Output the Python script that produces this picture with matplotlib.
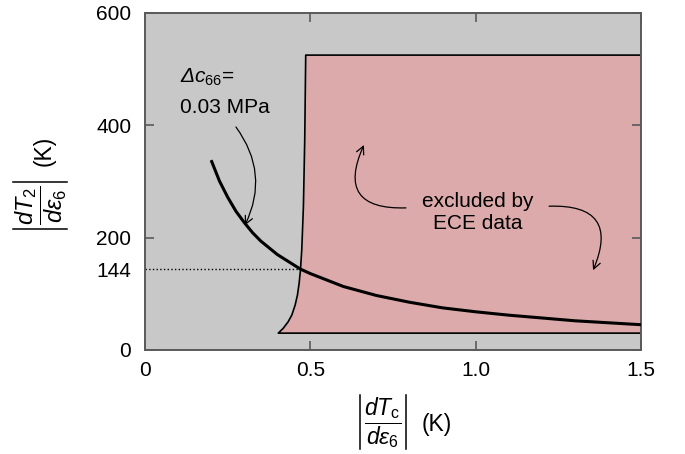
import numpy as np
import matplotlib.pyplot as plt
from matplotlib.lines import Line2D

plt.rcParams['font.family'] = ['Liberation Sans', 'DejaVu Sans']
plt.rcParams['mathtext.fontset'] = 'custom'
plt.rcParams['mathtext.rm'] = 'Liberation Sans'
plt.rcParams['mathtext.it'] = 'Liberation Sans:italic'
plt.rcParams['mathtext.bf'] = 'Liberation Sans:bold'
plt.rcParams['mathtext.sf'] = 'Liberation Sans:italic'

#-- Data
# |dT2/de6| vs |dTc/de6| for dc66 = 0.03 MPa
curve_x = [0.20, 0.225, 0.25, 0.275, 0.30, 0.325, 0.35, 0.40, 0.47, 0.50,
           0.60, 0.70, 0.80, 0.90, 1.00, 1.10, 1.20, 1.30, 1.40, 1.50]
curve_y = [338, 301, 272, 247, 227, 209, 194, 170, 144, 136,
           113, 97, 85, 75, 68, 62, 57, 52, 48.5, 45]

# left edge of the region excluded by ECE data
bound_x = [0.403, 0.418, 0.433, 0.444, 0.454, 0.461, 0.466, 0.470, 0.474,
           0.479, 0.483, 0.486]
bound_y = [30, 38.6, 50.4, 62.3, 80, 98, 118.5, 142, 178,
           255, 374, 525]
region_top = 525
region_bottom = 30
marked_y = 144      # dotted line value
marked_x = 0.470    # where it meets the curve

xticks = [0, 0.5, 1.0, 1.5]
xticklabels = ['0', '0.5', '1.0', '1.5']
yticks = [0, 144, 200, 400, 600]
yticklabels = ['0', '144', '200', '400', '600']

W, H = 685, 454

#-- Figure
fig = plt.figure(figsize=(W / 100, H / 100), dpi=100)
ax = fig.add_axes([0.2117, 0.2291, 0.7241, 0.7423])
ax.set_facecolor('#c8c8c8')
ax.set_xlim(0, 1.5)
ax.set_ylim(0, 600)

# excluded region
poly_x = [1.5] + bound_x + [1.5]
poly_y = [region_bottom] + bound_y + [region_top]
ax.fill(poly_x + [1.5], poly_y + [region_bottom], color='#dcaaab', lw=0, zorder=1)
ax.plot(poly_x, poly_y, color='k', lw=1.2, zorder=2, solid_joinstyle='round')

ax.plot([0, marked_x], [marked_y, marked_y], color='k', lw=1.0, ls=':', zorder=2)
ax.plot(curve_x, curve_y, color='k', lw=2.2, zorder=3, solid_capstyle='butt')

#-- Axes styling
for sp in ax.spines.values():
    sp.set_color('#5a5a5a')
    sp.set_linewidth(1.4)
ax.set_xticks(xticks)
ax.set_xticklabels(xticklabels)
ax.set_yticks(yticks)
ax.set_yticklabels(yticklabels)
ax.tick_params(axis='both', direction='in', length=6.5, width=1.2, color='#5a5a5a',
               labelsize=15, top=True, right=True)
ax.tick_params(axis='x', pad=8)
ax.tick_params(axis='y', pad=10)
t144 = ax.yaxis.get_major_ticks()[1]
t144.tick1line.set_visible(False)
t144.tick2line.set_visible(False)

# axis labels: fraction, thin |..| bars and unit, placed in pixels
def px(x, y):
    return x / W, 1 - y / H

def bar(x0, y0, x1, y1):
    (a, b), (c, d) = px(x0, y0), px(x1, y1)
    fig.add_artist(Line2D([a, c], [b, d], color='k', lw=1.1, transform=fig.transFigure))

fig.text(*px(383, 423), r'$\dfrac{dT_{\mathrm{c}}}{d\varepsilon_{6}}$',
         fontsize=16.5, ha='center', va='center')
bar(360, 395, 360, 449)
bar(406, 395, 406, 449)
fig.text(*px(437, 424), '(K)', fontsize=16.5, ha='center', va='center')

fig.text(*px(41, 205.5), r'$\dfrac{dT_{2}}{d\varepsilon_{6}}$',
         fontsize=17, ha='center', va='center', rotation=90)
bar(13, 181.7, 67, 181.7)
bar(13, 229.3, 67, 229.3)
fig.text(*px(44, 151), '(K)', fontsize=16.5, ha='center', va='center', rotation=90)

#-- Annotations
ax.text(0.106, 475, r'$\mathsf{\Delta}c_{66}$=', fontsize=15, zorder=4)
ax.text(0.106, 422, '0.03 MPa', fontsize=15, zorder=4)
arr = dict(arrowstyle='->', lw=0.9, color='k', shrinkA=0, shrinkB=0, mutation_scale=14)
ax.annotate('', xy=(0.302, 222), xytext=(0.275, 397),
            arrowprops=dict(arr, connectionstyle='arc3,rad=-0.3'))

ax.text(1.007, 255, 'excluded by', fontsize=15, ha='center', zorder=4)
ax.text(1.007, 215, 'ECE data', fontsize=15, ha='center', zorder=4)
ax.annotate('', xy=(0.662, 365), xytext=(0.789, 253),
            arrowprops=dict(arr, connectionstyle='arc3,rad=-0.8'))
ax.annotate('', xy=(1.355, 142), xytext=(1.222, 256),
            arrowprops=dict(arr, connectionstyle='arc3,rad=-0.78'))

fig.savefig('out.png', dpi=100)
